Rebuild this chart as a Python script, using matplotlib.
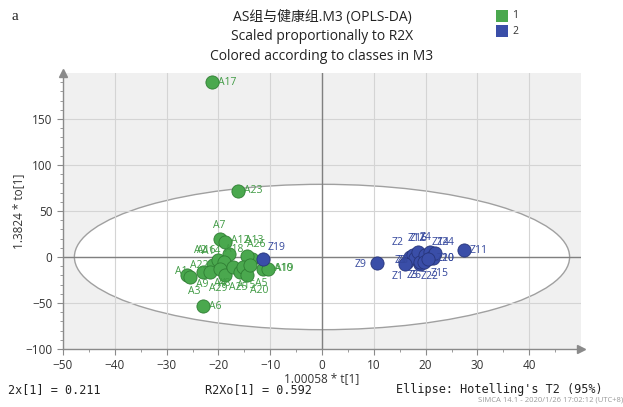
import matplotlib.pyplot as plt
from matplotlib.patches import Ellipse, Rectangle

# class 1 scores (AS group)
a_names = ["A17", "A23", "A7", "A12", "A18", "A13", "A26", "A2", "A16", "A14",
           "A22", "A1", "A3", "A9", "A4", "A29", "A8", "A25", "A15", "A20",
           "A5", "A19", "A10", "A6"]
a_t = [-21.2, -16.2, -19.6, -18.8, -17.9, -13.6, -14.5, -21.0, -20.0, -19.0,
       -22.9, -26.1, -25.4, -21.6, -19.7, -18.7, -17.1, -15.8, -15.2, -14.5,
       -13.9, -11.3, -10.4, -22.9]
a_to = [190, 72, 20, 16, 3.7, -1.8, 1.5, -9, -3.6, -5.5,
        -16.4, -20, -21.5, -16.4, -12.7, -20, -10.9, -16.4, -10.9, -20,
        -9, -12.7, -12.7, -53]

# class 2 scores (healthy group)
z_names = ["Z19", "Z9", "Z11", "Z3", "Z2", "Z12", "Z8", "Z16", "Z5", "Z6",
           "Z4", "Z14", "Z10", "Z15", "Z24", "Z1", "Z22", "Z20"]
z_t = [-11.4, 10.6, 27.4, 16.35, 17.0, 17.6, 17.95, 18.6, 18.9, 18.9,
       19.9, 20.85, 21.2, 21.4, 21.8, 16.0, 19.7, 20.5]
z_to = [-2, -6.9, 7.3, -5.2, 0.4, 1.9, -1.4, 5.9, -7.2, -5.0,
        2.2, 5.9, 0.4, -1.4, 4.0, -8.0, -5.8, -2.5]

# label offsets in pixels (dx, dy) from the dot centre
a_offsets = {"A7": (-7, 13), "A12": (6, 2), "A18": (-4, 4), "A13": (-7, 18),
             "A26": (0, 11), "A2": (-19, 15), "A16": (-21, 10), "A14": (-22, 11),
             "A22": (-13, 7), "A1": (-12, 4), "A3": (-2, -15), "A9": (-14, -12),
             "A4": (-6, -15), "A29": (-16, -13), "A8": (-15, -16), "A25": (-11, -15),
             "A15": (-6, -18), "A20": (3, -15), "A5": (5, -18), "A19": (12, 0),
             "A10": (6, 0), "A6": (6, -1)}
z_offsets = {"Z19": (5, 11), "Z9": (-22, -1), "Z3": (-12, 1), "Z2": (-18, 14),
             "Z12": (-6, 17), "Z8": (-18, -2), "Z16": (-9, 13), "Z5": (-13, -12),
             "Z6": (-10, -14), "Z4": (-5, 17), "Z14": (2, 9), "Z10": (5, -2),
             "Z15": (-2, -15), "Z24": (2, 11), "Z1": (-13, -12), "Z22": (-3, -14),
             "Z20": (8, 1)}

green = "#4aa84e"
blue = "#3a4ea8"

plt.rcParams["font.family"] = ["Open Sans", "Noto Sans CJK SC", "DejaVu Sans"]

fig = plt.figure(figsize=(6.23, 4.07), dpi=100)
ax = fig.add_axes([63 / 623, 1 - 349 / 407, 518 / 623, 276 / 407])
ax.set_facecolor("#f0f0f0")
ax.set_xlim(-50, 50)
ax.set_ylim(-100, 200)

# Hotelling's T2 ellipse
ax.add_patch(Ellipse((0, 0), 2 * 47.8, 2 * 79, facecolor="white",
                     edgecolor="#a0a0a0", lw=1.0, zorder=0.2))

ax.set_axisbelow(True)
ax.set_xticks(range(-50, 50, 10))
ax.set_xticks(range(-50, 50, 5), minor=True)
ax.set_yticks([-100, -50, 0, 50, 100, 150])
ax.set_yticks(range(-100, 200, 10), minor=True)
ax.grid(True, which="major", color="#d4d4d4", lw=0.8)
ax.axhline(0, color="#808080", lw=1.0, zorder=0.6)
ax.axvline(0, color="#808080", lw=1.0, zorder=0.6)

for s in ["top", "right"]:
    ax.spines[s].set_visible(False)
for s in ["left", "bottom"]:
    ax.spines[s].set_color("#8a8a8a")
    ax.spines[s].set_linewidth(1.0)
ax.tick_params(which="both", direction="out", colors="#8a8a8a", labelcolor="#333333",
               labelsize=8.5)
ax.tick_params(which="major", length=4)
ax.tick_params(which="minor", length=2.5)

# axis arrows
ax.plot(1, 0, ">", transform=ax.transAxes, color="#8a8a8a", ms=6, clip_on=False)
ax.plot(0, 1, "^", transform=ax.transAxes, color="#8a8a8a", ms=6, clip_on=False)

ax.scatter(a_t, a_to, s=90, c=green, edgecolors="#2f7d33", linewidths=0.6, zorder=3)
ax.scatter(z_t, z_to, s=90, c=blue, edgecolors="#27357a", linewidths=0.6, zorder=3)

for name, x, y in zip(a_names, a_t, a_to):
    dx, dy = a_offsets.get(name, (6, 0))
    ax.annotate(name, (x, y), xytext=(dx, dy), textcoords="offset pixels",
                ha="left", va="center", fontsize=7.5, color="#3f9a43", zorder=4)
for name, x, y in zip(z_names, z_t, z_to):
    dx, dy = z_offsets.get(name, (6, 0))
    ax.annotate(name, (x, y), xytext=(dx, dy), textcoords="offset pixels",
                ha="left", va="center", fontsize=7.5, color="#34479c", zorder=4)

ax.set_xlabel("1.00058 * t[1]", fontsize=8.5, color="#333333", labelpad=0)
ax.set_ylabel("1.3824 * to[1]", fontsize=8.5, color="#333333", labelpad=0)

# titles
fig.text(322 / 623, 1 - 17 / 407, "AS组与健康组.M3 (OPLS-DA)", ha="center", va="center",
         fontsize=10, color="#222222")
fig.text(322 / 623, 1 - 37 / 407, "Scaled proportionally to R2X", ha="center",
         va="center", fontsize=10, color="#222222")
fig.text(322 / 623, 1 - 57 / 407, "Colored according to classes in M3", ha="center",
         va="center", fontsize=10, color="#222222")
fig.text(12 / 623, 1 - 17 / 407, "a", ha="left", va="center", fontsize=11,
         family="Liberation Serif", color="#222222")

# class legend
for i, (lab, col) in enumerate([("1", green), ("2", blue)]):
    y0 = 1 - (22 + 15 * i) / 407
    fig.patches.append(Rectangle((496 / 623, y0), 12 / 623, 12 / 407, facecolor=col,
                                 transform=fig.transFigure, figure=fig))
    fig.text(512 / 623, y0 + 6 / 407, lab, ha="left", va="center", fontsize=7.5,
             color="#333333")

# footer statistics
fig.text(8 / 623, 1 - 390 / 407, "2x[1] = 0.211", ha="left", va="center", fontsize=8.5,
         family="DejaVu Sans Mono", color="#222222")
fig.text(205 / 623, 1 - 390 / 407, "R2Xo[1] = 0.592", ha="left", va="center",
         fontsize=8.5, family="DejaVu Sans Mono", color="#222222")
fig.text(603 / 623, 1 - 390 / 407, "Ellipse: Hotelling's T2 (95%)", ha="right",
         va="center", fontsize=8.5, family="DejaVu Sans Mono", color="#222222")
fig.text(623 / 623, 1 - 400 / 407, "SIMCA 14.1 - 2020/1/26 17:02:12 (UTC+8)", ha="right",
         va="center", fontsize=5.5, color="#9a9a9a")

plt.savefig("out.png", dpi=100)
